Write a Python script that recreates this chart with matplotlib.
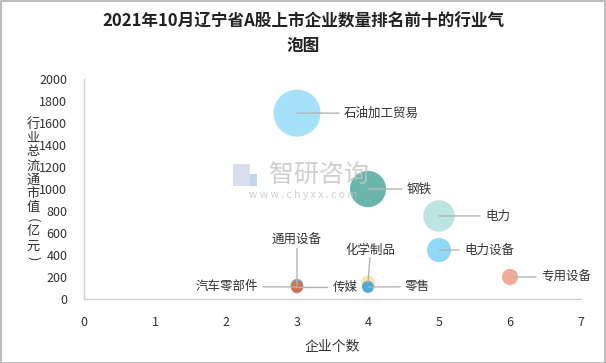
import matplotlib.pyplot as plt
from matplotlib.patches import Rectangle

plt.rcParams['font.family'] = ['Noto Sans CJK SC', 'DejaVu Sans']

# data
industries = ['石油加工贸易', '钢铁', '电力', '电力设备', '专用设备',
              '通用设备', '传媒', '汽车零部件', '化学制品', '零售']
company_count = [3, 4, 5, 5, 6, 3, 3, 3, 4, 4]
market_value = [1690, 1000, 755, 445, 200, 125, 105, 110, 150, 110]
bubble_colors = ['#A6E1FA', '#6AB6AD', '#BCE4E3', '#90D8F8', '#F2AB98',
                 '#7FA4B4', '#98B6C6', '#D7704F', '#FCE5B0', '#4CABD6']

# label offsets (pixels) and alignment for each bubble label
label_pos = [(42, 0, 'left'), (34, 0, 'left'), (41, 0, 'left'), (20, 0, 'left'),
             (26, 0, 'left'), (0, 38, 'center'), (31, 0, 'left'),
             (-34, 0, 'right'), (2, 26, 'center'), (32, 0, 'left')]

fig = plt.figure(figsize=(6.06, 3.63), dpi=100)
ax = fig.add_axes([84 / 606, 1 - 299 / 363, 497 / 606, 220 / 363])

sizes = [v * 0.678 for v in market_value]
for i in range(len(industries)):
    ax.scatter(company_count[i], market_value[i], s=sizes[i], color=bubble_colors[i],
               edgecolors='none', zorder=3)

for i, name in enumerate(industries):
    dx, dy, ha = label_pos[i]
    gap = 5
    if ha == 'center':
        tx, ty = dx, dy
        va = 'bottom'
        lx, ly = dx, dy - 1
    elif ha == 'left':
        tx, ty, va = dx + gap, 0, 'center'
        lx, ly = dx, 0
    else:
        tx, ty, va = dx - gap, 0, 'center'
        lx, ly = dx, 0
    ax.annotate('', xy=(company_count[i], market_value[i]), xytext=(lx, ly),
                textcoords='offset pixels',
                arrowprops=dict(arrowstyle='-', color='#b4b4b4', lw=1,
                                shrinkA=0, shrinkB=0), zorder=4)
    ax.annotate(name, xy=(company_count[i], market_value[i]), xytext=(tx, ty),
                textcoords='offset pixels', ha=ha, va=va, fontsize=9,
                color='#333333', zorder=5)

ax.set_xlim(0, 7)
ax.set_ylim(0, 2000)
ax.set_xticks(range(0, 8))
ax.set_yticks(range(0, 2001, 200))
ax.tick_params(length=0, labelsize=9, colors='#333333')
ax.tick_params(axis='x', pad=12)
ax.tick_params(axis='y', pad=12)
for s in ['top', 'right']:
    ax.spines[s].set_visible(False)
for s in ['left', 'bottom']:
    ax.spines[s].set_color('#d0d0d0')
    ax.spines[s].set_linewidth(1)

ax.set_xlabel('企业个数', fontsize=10, color='#333333', labelpad=8)

# vertical y label, one character per row, brackets turned sideways
y_px = 124
for ch in '行业总流通市值(亿元)':
    if ch in '()':
        y_px -= 2
        fig.text(33 / 606, 1 - y_px / 363, ch, fontsize=9.5, color='#333333',
                 ha='center', va='center', rotation=-90)
        y_px += 12
    else:
        fig.text(33 / 606, 1 - y_px / 363, ch, fontsize=9.5, color='#333333',
                 ha='center', va='center')
        y_px += 14

fig.text(0.5, 1 - 34 / 363, '2021年10月辽宁省A股上市企业数量排名前十的行业气\n泡图',
         ha='center', va='center', fontsize=12, fontweight='bold',
         color='#222222', linespacing=1.45)

# watermark
fig.text(319 / 606, 1 - 175 / 363, '智研咨询', fontsize=18, color='#c4c4c4',
         ha='center', va='center', alpha=0.8, zorder=0)
fig.text(303 / 606, 1 - 195 / 363, 'w w w . c h y x x . c o m', fontsize=7.5,
         color='#c4c4c4', ha='center', va='center', alpha=0.8, zorder=0)
fig.patches.append(Rectangle((233 / 606, 1 - 186 / 363), 17 / 606, 22 / 363,
                             transform=fig.transFigure, facecolor='#cfd6e8',
                             edgecolor='none', alpha=0.8, zorder=0))
fig.patches.append(Rectangle((250 / 606, 1 - 186 / 363), 7 / 606, 12 / 363,
                             transform=fig.transFigure, facecolor='#b3cbe8',
                             edgecolor='none', alpha=0.8, zorder=0))

fig.patches.append(Rectangle((0.5 / 606, 0.5 / 363), 604.5 / 606, 361.5 / 363,
                             transform=fig.transFigure, fill=False,
                             edgecolor='#b0b0b0', lw=1.2))

fig.savefig('out.png', dpi=100)
